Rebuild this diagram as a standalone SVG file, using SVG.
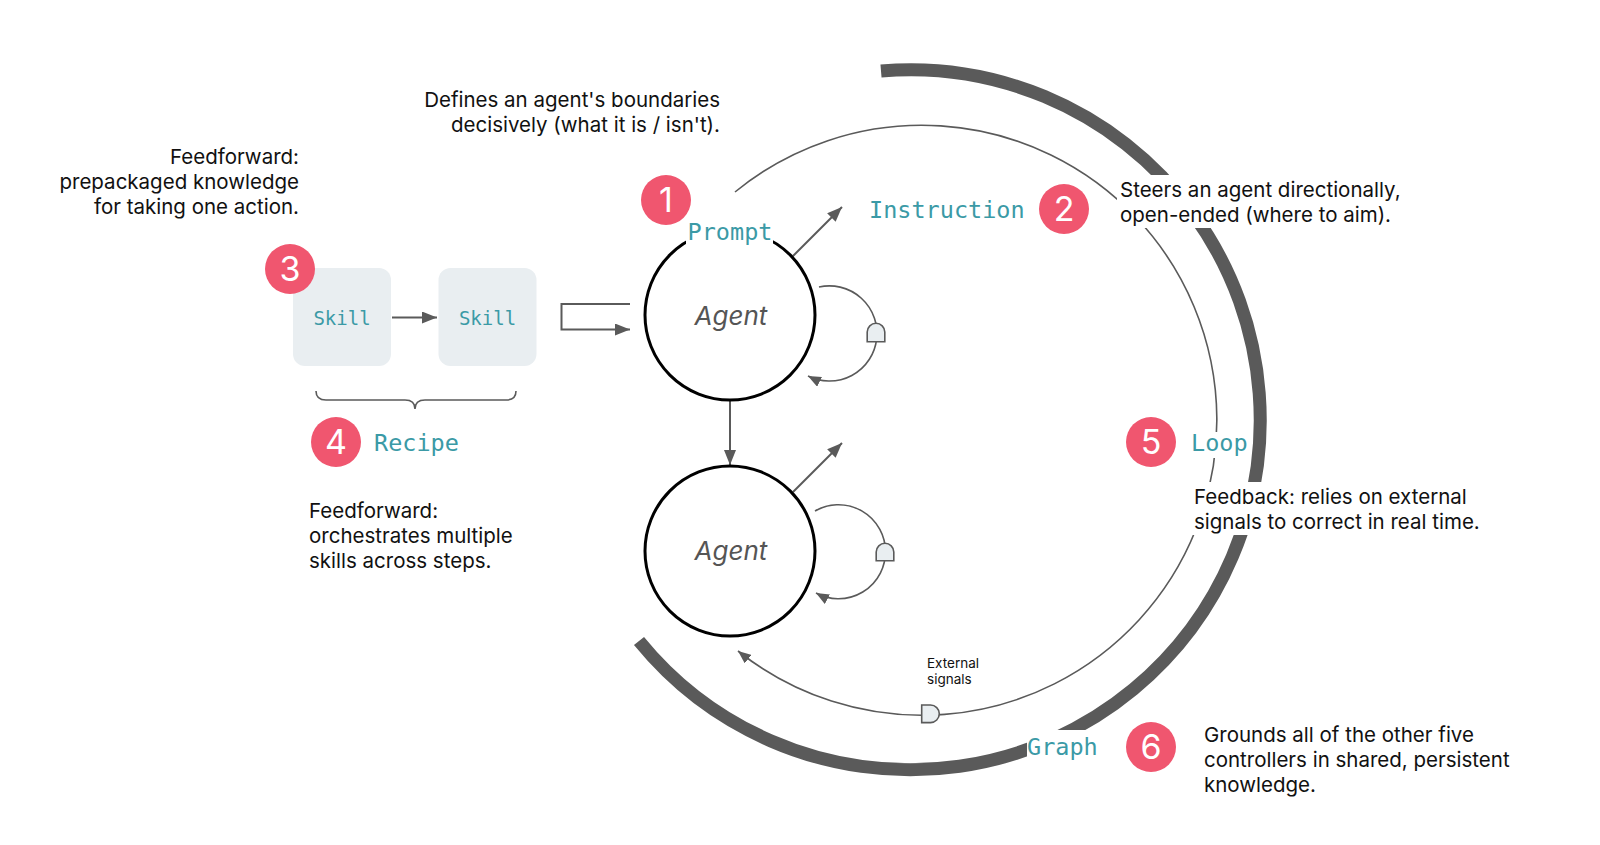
<svg xmlns="http://www.w3.org/2000/svg" width="1600" height="845" viewBox="0 0 1600 845">
<defs>
<style>
.note{font-family:Inter,"Noto Sans","Liberation Sans",sans-serif;font-size:20.5px;fill:#111}
.small{font-family:Inter,"Noto Sans","Liberation Sans",sans-serif;font-size:13.5px;fill:#111}
.lbl{font-family:"DejaVu Sans Mono","Liberation Mono",monospace;font-size:23.5px;fill:#3b9aa6}
.skl{font-family:"DejaVu Sans Mono","Liberation Mono",monospace;font-size:19px;fill:#3b9aa6}
.agt{font-family:Inter,"Noto Sans","Liberation Sans",sans-serif;font-size:26px;font-style:italic;fill:#555;text-anchor:middle}
.num{font-family:Inter,"Noto Sans","Liberation Sans",sans-serif;font-size:34px;fill:#fff;text-anchor:middle}
.badge{fill:#f0566f}
.ln{fill:none;stroke:#5a5a5a;stroke-width:1.6}
.ln2{fill:none;stroke:#5a5a5a;stroke-width:2}
.thick{fill:none;stroke:#5a5a5a;stroke-width:13}
.gate{fill:#e9eef1;stroke:#5a5a5a;stroke-width:1.6}
.box{fill:#e9eef1}
.agent{fill:#fff;stroke:#000;stroke-width:3}
.bg{fill:#fff}
</style>
<marker id="ah" viewBox="0 0 10 10" refX="10" refY="5" markerWidth="15" markerHeight="12" markerUnits="userSpaceOnUse" orient="auto" preserveAspectRatio="none"><path d="M0,0 L10,5 L0,10 z" fill="#5a5a5a"/></marker>
<marker id="ahs" viewBox="0 0 10 10" refX="10" refY="5" markerWidth="13" markerHeight="11" markerUnits="userSpaceOnUse" orient="auto" preserveAspectRatio="none"><path d="M0,0 L10,5 L0,10 z" fill="#5a5a5a"/></marker>
</defs>
<rect width="1600" height="845" fill="#fff"/>

<g id="connectors">
<path class="thick" d="M 881 71 A 350 350 0 1 1 639 641"/>
<path class="ln" d="M 735 192 A 295 295 0 1 1 738 651" marker-end="url(#ahs)"/>
<path class="ln" d="M 819 287 A 47.6 47.6 0 1 1 808 376" marker-end="url(#ahs)"/>
<path class="ln" d="M 815 511 A 47 47 0 1 1 816 593" marker-end="url(#ahs)"/>
<path class="ln2" d="M 792 257 L 842 207" marker-end="url(#ah)"/>
<path class="ln2" d="M 793 492 L 842 443" marker-end="url(#ah)"/>
<path class="ln2" d="M 730 401 L 730 465" marker-end="url(#ah)"/>
<path class="ln2" d="M 392 317.5 L 437 317.5" marker-end="url(#ah)"/>
<path class="ln2" d="M 630 304 H 561.5 V 329.5 H 630" marker-end="url(#ah)"/>
<path class="ln" d="M 316 391 Q 316 400 326 400 H 405 Q 415 400 415 409 Q 415 400 425 400 H 506 Q 516 400 516 391"/>
</g>

<g id="gate-agent1"><path class="gate" d="M 867.2 341.7 V 332.1 A 8.8 8.8 0 0 1 884.8 332.1 V 341.7 Z"/></g>
<g id="gate-agent2"><path class="gate" d="M 876.2 560.7 V 552.1 A 8.8 8.8 0 0 1 893.8 552.1 V 560.7 Z"/></g>
<g id="gate-external"><path class="gate" d="M 921.7 705 H 930.5 A 8.8 8.8 0 0 1 930.5 722.6 H 921.7 Z"/></g>

<g id="agent1">
<circle class="agent" cx="730" cy="315" r="85"/>
<text class="agt" x="731" y="325">Agent</text>
</g>
<g id="agent2">
<circle class="agent" cx="730" cy="551" r="85"/>
<text class="agt" x="731" y="560">Agent</text>
</g>

<g id="skill1">
<rect class="box" x="293" y="268" width="98" height="98" rx="12"/>
<text class="skl" x="342" y="325" text-anchor="middle">Skill</text>
</g>
<g id="skill2">
<rect class="box" x="438.5" y="268" width="98" height="98" rx="12"/>
<text class="skl" x="487.5" y="325" text-anchor="middle">Skill</text>
</g>

<g id="label-prompt">
<rect class="bg" x="686" y="221" width="87" height="26"/>
<text class="lbl" x="730" y="240" text-anchor="middle">Prompt</text>
</g>
<g id="label-instruction"><text class="lbl" x="869" y="218">Instruction</text></g>
<g id="label-recipe"><text class="lbl" x="374" y="451">Recipe</text></g>
<g id="label-loop">
<rect class="bg" x="1189" y="432" width="60" height="26"/>
<text class="lbl" x="1191" y="451">Loop</text>
</g>
<g id="label-graph">
<rect class="bg" x="1027" y="730" width="71" height="32"/>
<text class="lbl" x="1027" y="755">Graph</text>
</g>

<g id="note-prompt">
<text class="note" text-anchor="end"><tspan x="720" y="107">Defines an agent's boundaries</tspan><tspan x="720" y="132">decisively (what it is / isn't).</tspan></text>
</g>
<g id="note-skill">
<text class="note" text-anchor="end"><tspan x="299" y="163.5">Feedforward:</tspan><tspan x="299" y="188.5">prepackaged knowledge</tspan><tspan x="299" y="213.5">for taking one action.</tspan></text>
</g>
<g id="note-instruction">
<rect class="bg" x="1117" y="175" width="300" height="53"/>
<text class="note"><tspan x="1120" y="197">Steers an agent directionally,</tspan><tspan x="1120" y="221.5">open-ended (where to aim).</tspan></text>
</g>
<g id="note-recipe">
<text class="note"><tspan x="309" y="518">Feedforward:</tspan><tspan x="309" y="543">orchestrates multiple</tspan><tspan x="309" y="568">skills across steps.</tspan></text>
</g>
<g id="note-loop">
<rect class="bg" x="1190" y="482" width="300" height="53"/>
<text class="note"><tspan x="1194" y="504">Feedback: relies on external</tspan><tspan x="1194" y="529">signals to correct in real time.</tspan></text>
</g>
<g id="note-graph">
<text class="note"><tspan x="1204" y="741.5">Grounds all of the other five</tspan><tspan x="1204" y="766.5">controllers in shared, persistent</tspan><tspan x="1204" y="791.5">knowledge.</tspan></text>
</g>
<g id="note-external">
<text class="small"><tspan x="927" y="667.5">External</tspan><tspan x="927" y="683.5">signals</tspan></text>
</g>

<g id="badge1"><circle class="badge" cx="666" cy="200" r="25"/><text class="num" x="666" y="212">1</text></g>
<g id="badge2"><circle class="badge" cx="1064" cy="209" r="25"/><text class="num" x="1064" y="221">2</text></g>
<g id="badge3"><circle class="badge" cx="290" cy="269" r="25"/><text class="num" x="290" y="281">3</text></g>
<g id="badge4"><circle class="badge" cx="336" cy="442" r="25"/><text class="num" x="336" y="454">4</text></g>
<g id="badge5"><circle class="badge" cx="1151" cy="442" r="25"/><text class="num" x="1151" y="454">5</text></g>
<g id="badge6"><circle class="badge" cx="1151" cy="747" r="25"/><text class="num" x="1151" y="759">6</text></g>
</svg>
